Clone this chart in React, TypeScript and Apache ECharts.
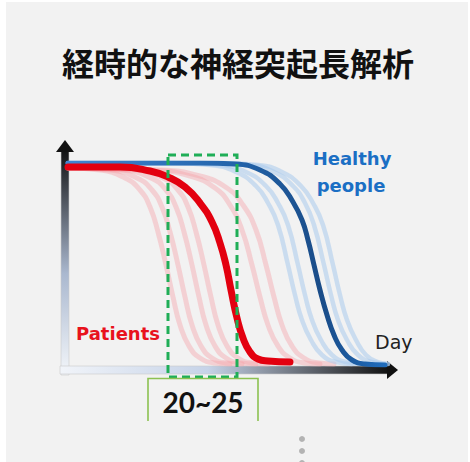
import React, { useEffect, useRef } from "react";
import * as echarts from "echarts";

// x: schematic time units (0..80), y: relative neurite length (0..101)
const thickRed: [number, number][] = [
  [0, 99], [13, 99], [20.5, 97], [25, 94], [29.25, 89], [33, 81], [36, 71.5], [38, 61],
  [39.5, 50], [40.75, 37.5], [42.25, 23.5], [43.75, 13.5], [45.5, 6.5], [47.5, 3], [50, 2], [55.5, 1.5],
];
const thickBlue: [number, number][] = [
  [0, 101], [33, 101], [41.75, 100.5], [48, 97.5], [53, 90.5], [56.25, 81.5], [58.5, 72.5], [60, 62.5],
  [61.5, 50], [63, 37.5], [64.75, 25], [66.5, 15], [68.5, 7.5], [71, 2.5], [74.25, 0.5], [79.25, 0],
];
const faintRed1: [number, number][] = [
  [0, 98.5], [8, 97.5], [14.25, 93.5], [18, 87.5], [20.5, 79], [22.5, 66.5], [24.5, 50], [26.25, 34],
  [28, 20], [30.25, 9.5], [33, 3.5], [36.75, 1], [40.5, 0.5],
];
const faintRed2: [number, number][] = [
  [0, 98.5], [10.5, 97.5], [17.25, 93.5], [21, 87.5], [23.5, 79], [25.5, 66.5], [27.5, 50], [29.25, 34],
  [31, 20], [33.25, 9.5], [36, 3.5], [39.75, 1], [43.5, 0.5],
];
const faintRed3: [number, number][] = [
  [0, 98.5], [13.5, 97.5], [20.75, 93.5], [24.5, 87.5], [27, 79], [29, 66.5], [31, 50], [32.75, 34],
  [34.5, 20], [36.75, 9.5], [39.5, 3.5], [43.25, 1], [47, 0.5],
];
const faintRed4: [number, number][] = [
  [0, 98.5], [16.5, 97.5], [23.75, 93.5], [27.5, 87.5], [30, 79], [32, 66.5], [34, 50], [35.75, 34],
  [37.5, 20], [39.75, 9.5], [42.5, 3.5], [46.25, 1], [50, 0.5],
];
const faintRed5: [number, number][] = [
  [0, 98.5], [20.5, 97.5], [30.5, 94.5], [36.75, 88.5], [40.5, 80], [43.5, 67.5], [46, 50], [48, 34],
  [50, 20], [52.5, 9.5], [55.5, 3.5], [59.25, 1], [63, 0.5],
];
const faintRed6: [number, number][] = [
  [0, 98.5], [23, 97.5], [33, 94.5], [39.75, 88.5], [43.75, 80], [47, 67.5], [49.5, 50], [51.5, 34],
  [53.5, 20], [56, 9.5], [59, 3.5], [62.75, 1], [66.5, 0.5],
];
const faintBlue1: [number, number][] = [
  [0, 101], [25.5, 101], [35.5, 100], [42, 96.5], [47, 89.5], [50, 81], [52.5, 70], [55, 50],
  [56.75, 35], [58.5, 22.5], [60.75, 12.5], [63.5, 5], [67, 1.5], [71, 0.5],
];
const faintBlue2: [number, number][] = [
  [0, 101], [28, 101], [38, 100], [44.5, 96.5], [49.5, 89.5], [52.5, 81], [55, 70], [57.5, 50],
  [59.25, 35], [61, 22.5], [63.25, 12.5], [66, 5], [69.5, 1.5], [73.5, 0.5],
];
const faintBlue3: [number, number][] = [
  [0, 101], [35.5, 101], [45.5, 100], [51.5, 96.5], [56.25, 89.5], [59.25, 81], [61.5, 70], [64, 50],
  [65.75, 35], [67.5, 22.5], [69.75, 12.5], [72.5, 5], [76, 1.5], [80, 0.5],
];
const faintBlue4: [number, number][] = [
  [0, 101], [38, 101], [47.5, 100], [53.5, 96.5], [58.25, 89.5], [61.25, 81], [63.75, 70], [66.25, 50],
  [68, 35], [69.75, 22.5], [72, 12.5], [74.5, 5], [77.5, 1.5], [80, 0.5],
];

const faintReds = [faintRed1, faintRed2, faintRed3, faintRed4, faintRed5, faintRed6];
const faintBlues = [faintBlue1, faintBlue2, faintBlue3, faintBlue4];

const titleText = "経時的な神経突起長解析";
const rangeText = "20~25";

export default function App() {
  const ref = useRef<HTMLDivElement>(null);
  useEffect(() => {
    document.body.style.margin = "0";
    const chart = echarts.init(ref.current!, null, { renderer: "svg", width: 470, height: 462 });
    const line = (data: [number, number][], color: any, width: number, opacity: number, z: number) => ({
      type: "line",
      data,
      smooth: 0.5,
      symbol: "none",
      silent: true,
      z,
      lineStyle: { color, width, opacity, cap: "round", join: "round" },
    });
    const series: any[] = [];
    faintReds.forEach((d) => series.push(line(d, "#f5a3aa", 5, 0.42, 2)));
    faintBlues.forEach((d) => series.push(line(d, "#a9cbec", 4.5, 0.55, 2)));
    series.push(
      line(
        thickBlue,
        new echarts.graphic.LinearGradient(0, 0, 1, 0, [
          { offset: 0, color: "#3f86d2" },
          { offset: 0.55, color: "#2262a8" },
          { offset: 0.8, color: "#1a4c88" },
          { offset: 1, color: "#1f6cbc" },
        ]),
        5,
        1,
        3
      )
    );
    series.push(line(thickRed, "#e3000f", 7, 1, 4));

    chart.setOption({
      animation: false,
      backgroundColor: "#ffffff",
      grid: { left: 68, right: 82, top: 163, bottom: 97 },
      xAxis: { type: "value", min: 0, max: 80, show: false },
      yAxis: { type: "value", min: 0, max: 101, show: false },
      series,
      graphic: [
        { type: "rect", z: 0, silent: true, shape: { x: 6, y: 2, width: 462, height: 460 }, style: { fill: "#f2f2f2" } },
        {
          type: "rect", z: 1, silent: true,
          shape: { x: 61, y: 150, width: 8, height: 225 },
          style: {
            fill: new echarts.graphic.LinearGradient(0, 0, 0, 1, [
              { offset: 0, color: "#111111" },
              { offset: 0.55, color: "#aab8cf" },
              { offset: 1, color: "#f3f6fa" },
            ]),
            stroke: "#c9c9c9", lineWidth: 0.6,
          },
        },
        { type: "polygon", z: 1, silent: true, shape: { points: [[56, 152], [65, 140], [74, 152]] }, style: { fill: "#111111" } },
        {
          type: "rect", z: 1, silent: true,
          shape: { x: 60, y: 366, width: 329, height: 8 },
          style: {
            fill: new echarts.graphic.LinearGradient(0, 0, 1, 0, [
              { offset: 0, color: "#f1f4f9" },
              { offset: 0.45, color: "#c6d3e8" },
              { offset: 1, color: "#111111" },
            ]),
            stroke: "#c9c9c9", lineWidth: 0.6,
          },
        },
        { type: "polygon", z: 1, silent: true, shape: { points: [[387, 361], [398, 370], [387, 379]] }, style: { fill: "#111111" } },
        {
          type: "rect", z: 10, silent: true,
          shape: { x: 168, y: 155, width: 69, height: 222 },
          style: { fill: "none", stroke: "#1fae57", lineWidth: 3, lineDash: [8, 5] },
        },
        {
          type: "polyline", z: 10, silent: true,
          shape: { points: [[148, 421], [148, 378.5], [258, 378.5], [258, 421]] },
          style: { fill: "none", stroke: "#8cc152", lineWidth: 1.6 },
        },
        {
          type: "text", z: 10, silent: true, x: 203, y: 402,
          style: { text: rangeText, font: "bold 28px Lato", fill: "#111111", align: "center", verticalAlign: "middle" },
        },
        {
          type: "text", z: 10, silent: true, x: 238, y: 62,
          style: { text: titleText, font: 'bold 32px "Noto Sans CJK JP"', fill: "#111111", align: "center", verticalAlign: "middle" },
        },
        {
          type: "text", z: 10, silent: true, x: 352, y: 158,
          style: { text: "Healthy", font: 'bold 18px "DejaVu Sans"', fill: "#1b6fc4", align: "center", verticalAlign: "middle" },
        },
        {
          type: "text", z: 10, silent: true, x: 351, y: 185,
          style: { text: "people", font: 'bold 18px "DejaVu Sans"', fill: "#1b6fc4", align: "center", verticalAlign: "middle" },
        },
        {
          type: "text", z: 10, silent: true, x: 118, y: 333,
          style: { text: "Patients", font: 'bold 18px "DejaVu Sans"', fill: "#e8121c", align: "center", verticalAlign: "middle" },
        },
        {
          type: "text", z: 10, silent: true, x: 375, y: 342,
          style: { text: "Day", font: '19px "DejaVu Sans"', fill: "#222222", align: "left", verticalAlign: "middle" },
        },
        { type: "circle", z: 10, silent: true, shape: { cx: 302, cy: 439, r: 3 }, style: { fill: "#b3b3b3" } },
        { type: "circle", z: 10, silent: true, shape: { cx: 302, cy: 451, r: 3 }, style: { fill: "#b3b3b3" } },
        { type: "circle", z: 10, silent: true, shape: { cx: 302, cy: 463, r: 3 }, style: { fill: "#b3b3b3" } },
      ],
    });
    return () => chart.dispose();
  }, []);
  return <div ref={ref} style={{ position: "fixed", left: 0, top: 0, width: 470, height: 462 }} />;
}
